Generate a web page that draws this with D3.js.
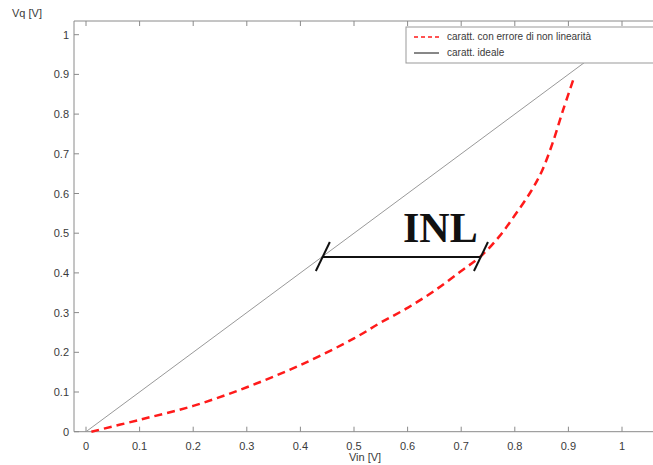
<!DOCTYPE html>
<html>
<head>
<meta charset="utf-8">
<script src="https://cdn.jsdelivr.net/npm/d3@7"></script>
<style>
	body { margin: 0; background: #fff; overflow: hidden; }
	svg { display: block; font-family: "Liberation Sans", Arial, sans-serif; }
</style>
</head>
<body>
<svg></svg>
<script>
// characteristic
const vin = [0.01, 0.1, 0.2, 0.3, 0.4, 0.5, 0.55, 0.6, 0.65, 0.7, 0.735, 0.77, 0.8, 0.83, 0.85, 0.87, 0.89, 0.91]
const vqReal = [0, 0.03, 0.065, 0.112, 0.168, 0.235, 0.275, 0.312, 0.355, 0.405, 0.44, 0.49, 0.545, 0.605, 0.655, 0.725, 0.81, 0.89]
const ideal = [0, 1]
const xTicks = [0, 0.1, 0.2, 0.3, 0.4, 0.5, 0.6, 0.7, 0.8, 0.9, 1]
const yTicks = [0, 0.1, 0.2, 0.3, 0.4, 0.5, 0.6, 0.7, 0.8, 0.9, 1]
const legendLabels = ["caratt. con errore di non linearità", "caratt. ideale"]
// INL marker: level and the two ends
const inlLevel = 0.44
const inlFrom = 0.44
const inlTo = 0.735

const svg = d3.select("svg")
	.attr("width", 653)
	.attr("height", 465)

const scaleX = d3.scaleLinear()
	.domain([0, 1])
	.range([86, 622])

const scaleY = d3.scaleLinear()
	.domain([0, 1])
	.range([431.7, 34.7])

const boxLeft = 74, boxTop = 21, boxBottom = 431.7, boxRight = 700
const axisColor = "#8a8a8a"
const textColor = "#3a3a3a"

// box
svg.append("path")
	.attr("d", `M${boxRight},${boxTop}H${boxLeft}V${boxBottom}H${boxRight}`)
	.attr("fill", "none")
	.attr("stroke", axisColor)
	.attr("stroke-width", 1)

// x ticks, bottom and top, pointing inward
xTicks.forEach(t => {
	const x = scaleX(t)
	svg.append("line").attr("x1", x).attr("x2", x).attr("y1", boxBottom).attr("y2", boxBottom - 5)
		.attr("stroke", axisColor)
	svg.append("line").attr("x1", x).attr("x2", x).attr("y1", boxTop).attr("y2", boxTop + 5)
		.attr("stroke", axisColor)
	svg.append("text")
		.attr("x", x).attr("y", boxBottom + 18)
		.attr("text-anchor", "middle")
		.attr("font-size", 11)
		.attr("fill", textColor)
		.text(t === 0 || t === 1 ? t : t.toFixed(1))
})

yTicks.forEach(t => {
	const y = scaleY(t)
	svg.append("line").attr("x1", boxLeft).attr("x2", boxLeft + 5).attr("y1", y).attr("y2", y)
		.attr("stroke", axisColor)
	svg.append("text")
		.attr("x", boxLeft - 5).attr("y", y + 4)
		.attr("text-anchor", "end")
		.attr("font-size", 11)
		.attr("fill", textColor)
		.text(t === 0 || t === 1 ? t : t.toFixed(1))
})

svg.append("text")
	.attr("x", 365).attr("y", 461)
	.attr("text-anchor", "middle")
	.attr("font-size", 11)
	.attr("fill", textColor)
	.text("Vin [V]")

svg.append("text")
	.attr("x", 12).attr("y", 17)
	.attr("font-size", 11)
	.attr("fill", textColor)
	.text("Vq [V]")

const line = d3.line()
	.x(d => scaleX(d[0]))
	.y(d => scaleY(d[1]))

// ideal characteristic
svg.append("path")
	.attr("d", line(ideal.map(v => [v, v])))
	.attr("fill", "none")
	.attr("stroke", "#999")
	.attr("stroke-width", 1)

// characteristic with non linearity
svg.append("path")
	.attr("d", d3.line().curve(d3.curveCatmullRom)
		.x(d => scaleX(d[0])).y(d => scaleY(d[1]))(vin.map((v, i) => [v, vqReal[i]])))
	.attr("fill", "none")
	.attr("stroke", "#ff1a1a")
	.attr("stroke-width", 2.5)
	.attr("stroke-dasharray", "8,5")

// INL
const yInl = scaleY(inlLevel)
svg.append("line")
	.attr("x1", scaleX(inlFrom)).attr("x2", scaleX(inlTo))
	.attr("y1", yInl).attr("y2", yInl)
	.attr("stroke", "#111").attr("stroke-width", 2)
;[inlFrom, inlTo].forEach(v => {
	const x = scaleX(v)
	svg.append("line")
		.attr("x1", x - 6).attr("y1", yInl + 14)
		.attr("x2", x + 8).attr("y2", yInl - 15)
		.attr("stroke", "#111").attr("stroke-width", 2)
})
svg.append("text")
	.attr("x", 403).attr("y", 242)
	.attr("font-family", "'Liberation Serif', 'Times New Roman', serif")
	.attr("font-weight", "bold")
	.attr("font-size", 42)
	.attr("fill", "#111")
	.text("INL")

// legend
const legend = svg.append("g")
legend.append("rect")
	.attr("x", 406).attr("y", 27)
	.attr("width", 300).attr("height", 36)
	.attr("fill", "#fff")
	.attr("stroke", "#999")
legend.append("line")
	.attr("x1", 414).attr("x2", 439).attr("y1", 37).attr("y2", 37)
	.attr("stroke", "#ff1a1a").attr("stroke-width", 1.5)
	.attr("stroke-dasharray", "4,3")
legend.append("line")
	.attr("x1", 414).attr("x2", 439).attr("y1", 53).attr("y2", 53)
	.attr("stroke", "#111").attr("stroke-width", 1)
legendLabels.forEach((label, i) => {
	legend.append("text")
		.attr("x", 447).attr("y", 40 + i * 16)
		.attr("font-size", 10)
		.attr("fill", textColor)
		.text(label)
})
</script>
</body>
</html>
